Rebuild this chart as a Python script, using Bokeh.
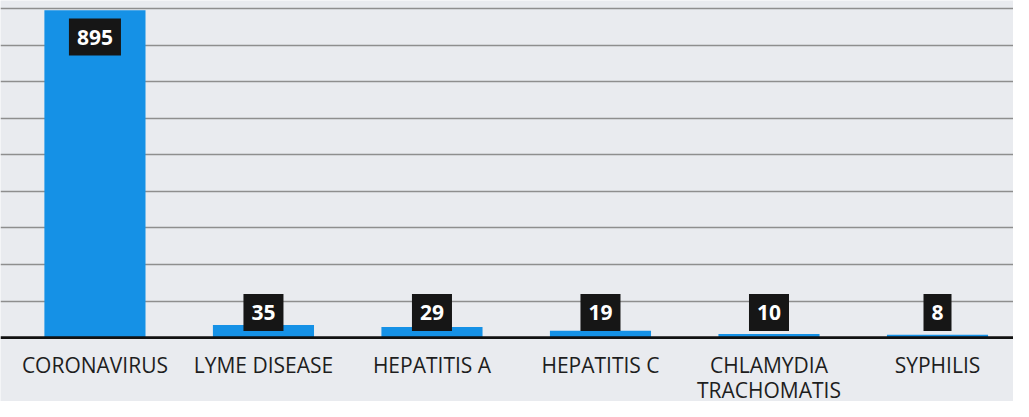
from bokeh.plotting import figure
from bokeh.models import FixedTicker, Range1d, Span
from bokeh.core.properties import value
from bokeh.embed import file_html
from bokeh.resources import INLINE

categories = ["CORONAVIRUS", "LYME DISEASE", "HEPATITIS A", "HEPATITIS C",
              "CHLAMYDIA\nTRACHOMATIS", "SYPHILIS"]
cases = [895, 35, 29, 19, 10, 8]
grid_ticks = [100, 200, 300, 400, 500, 600, 700, 800, 900]

xs = list(range(len(categories)))
label_y = [v - 73 if v > 150 else 69 for v in cases]
label_txt = [str(v) for v in cases]

bg = "#e9ebef"
p = figure(width=1013, height=401, output_backend="svg", toolbar_location=None,
           x_range=Range1d(-0.5605, 5.451), y_range=Range1d(-174.4, 921.9),
           min_border_left=0, min_border_right=0, min_border_top=0, min_border_bottom=0,
           background_fill_color=bg, border_fill_color=bg, outline_line_color=None)
p.xaxis.visible = False
p.yaxis.visible = False
p.xgrid.visible = False
p.ygrid.ticker = FixedTicker(ticks=grid_ticks)
p.ygrid.grid_line_color = "#8e8e8e"
p.ygrid.grid_line_width = 1.3

p.vbar(x=xs, top=cases, bottom=0, width=0.6, fill_color="#1591e6", line_color=None)

p.add_layout(Span(location=0, dimension="width", line_color="#111111", line_width=2.8))

p.text(x=xs, y=label_y, text=label_txt, text_align="center", text_baseline="middle",
       text_font=value("Open Sans"), text_font_style="bold", text_font_size="21px",
       text_color="white", background_fill_color="#161616", padding=(8, 11))

p.text(x=xs, y=[-36] * len(xs), text=categories, text_align="center", text_baseline="top",
       text_font=value("Open Sans"), text_font_size="21px", text_color="#1e1e1e",
       text_line_height=0.9)

open("out.html", "w").write(file_html(p, INLINE))
